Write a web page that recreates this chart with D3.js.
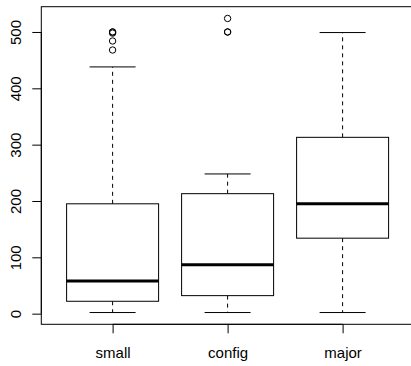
<!DOCTYPE html>
<html>
<head>
<meta charset="utf-8">
<script src="https://cdn.jsdelivr.net/npm/d3@7"></script>
<style>
  body { margin: 0; background: #fff; }
  svg { display: block; font-family: "Liberation Sans", Arial, sans-serif; }
</style>
</head>
<body>
<svg id="chart" width="411" height="366"></svg>
<script>
// boxplot stats
const categories = ["small", "config", "major"];
const lowerWhisker = [2, 2, 2];
const q1 = [22, 32, 134];
const median = [58, 87, 195];
const q3 = [195, 213, 313];
const upperWhisker = [438, 248, 499];
const outliers = [[468, 484, 498, 500, 500], [500, 500, 524], []];
const yTicks = [0, 100, 200, 300, 400, 500];

const svg = d3.select("#chart");

// plot region (R style, 4% padding on both axes)
const plotLeft = 41.3, plotRight = 413.9, plotTop = 6.7, plotBottom = 324.3;

const allVals = lowerWhisker.concat(upperWhisker, outliers.flat());
const yMin = d3.min(allVals), yMax = d3.max(allVals);
const pad = (yMax - yMin) * 0.04;

const y = d3.scaleLinear().domain([yMin - pad, yMax + pad]).range([plotBottom, plotTop]);
const x = d3.scaleLinear().domain([0.5 - 0.12, categories.length + 0.5 + 0.12]).range([plotLeft, plotRight]);

const boxW = x(1.8) - x(1);   // 0.8 units wide
const capW = boxW / 2;

const data = categories.map((c, i) => ({
    name: c,
    pos: i + 1,
    lo: lowerWhisker[i],
    q1: q1[i],
    med: median[i],
    q3: q3[i],
    hi: upperWhisker[i],
    out: outliers[i]
}));

const g = svg.append("g");

const boxes = g.selectAll("g.box").data(data).enter().append("g").attr("class", "box");

// whiskers
boxes.append("line")
    .attr("x1", d => x(d.pos)).attr("x2", d => x(d.pos))
    .attr("y1", d => y(d.q3)).attr("y2", d => y(d.hi))
    .attr("stroke", "#000").attr("stroke-dasharray", "4,4");
boxes.append("line")
    .attr("x1", d => x(d.pos)).attr("x2", d => x(d.pos))
    .attr("y1", d => y(d.q1)).attr("y2", d => y(d.lo))
    .attr("stroke", "#000").attr("stroke-dasharray", "4,4");

// staples
boxes.selectAll("line.cap").data(d => [d.lo, d.hi].map(v => ({ pos: d.pos, v: v })))
    .enter().append("line").attr("class", "cap")
    .attr("x1", d => x(d.pos) - capW / 2).attr("x2", d => x(d.pos) + capW / 2)
    .attr("y1", d => y(d.v)).attr("y2", d => y(d.v))
    .attr("stroke", "#000");

// box
boxes.append("rect")
    .attr("x", d => x(d.pos) - boxW / 2)
    .attr("width", boxW)
    .attr("y", d => y(d.q3))
    .attr("height", d => y(d.q1) - y(d.q3))
    .attr("fill", "#fff").attr("stroke", "#000");

// median
boxes.append("line")
    .attr("x1", d => x(d.pos) - boxW / 2).attr("x2", d => x(d.pos) + boxW / 2)
    .attr("y1", d => y(d.med)).attr("y2", d => y(d.med))
    .attr("stroke", "#000").attr("stroke-width", 3);

// outliers
boxes.selectAll("circle").data(d => d.out.map(v => ({ pos: d.pos, v: v })))
    .enter().append("circle")
    .attr("cx", d => x(d.pos)).attr("cy", d => y(d.v))
    .attr("r", 3.2)
    .attr("fill", "none").attr("stroke", "#000");

// frame
svg.append("rect")
    .attr("x", plotLeft).attr("y", plotTop)
    .attr("width", plotRight - plotLeft).attr("height", plotBottom - plotTop)
    .attr("fill", "none").attr("stroke", "#000");

// y axis
const yAxis = svg.append("g")
    .attr("transform", "translate(" + plotLeft + ",0)")
    .call(d3.axisLeft(y).tickValues(yTicks).tickSize(9).tickSizeOuter(0));
yAxis.select(".domain")
    .attr("d", "M0," + y(yTicks[0]) + "V" + y(yTicks[yTicks.length - 1]));
yAxis.selectAll("text")
    .attr("transform", "rotate(-90)")
    .attr("x", 0).attr("y", -20).attr("dy", 0)
    .attr("text-anchor", "middle")
    .attr("font-size", 15).attr("font-family", null);

// x axis
const xAxis = svg.append("g")
    .attr("transform", "translate(0," + plotBottom + ")")
    .call(d3.axisBottom(x).tickValues(data.map(d => d.pos))
        .tickFormat(v => categories[v - 1]).tickSize(9).tickSizeOuter(0));
xAxis.select(".domain")
    .attr("d", "M" + x(1) + ",0H" + x(categories.length));
xAxis.selectAll("text")
    .attr("y", 34).attr("dy", 0)
    .attr("font-size", 15).attr("font-family", null);
</script>
</body>
</html>
